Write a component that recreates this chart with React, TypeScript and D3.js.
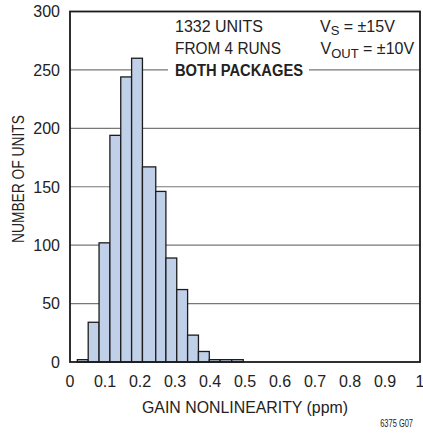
import React from "react";
import * as d3 from "d3";

const binEdges = [0.021, 0.052, 0.083, 0.114, 0.145, 0.176, 0.207, 0.245, 0.274, 0.305, 0.336, 0.367, 0.398, 0.429, 0.462, 0.495];
const counts = [2, 34, 102, 194, 244, 260, 167, 146, 89, 62, 23, 9, 2, 2, 2];
const xTicks = [0, 0.1, 0.2, 0.3, 0.4, 0.5, 0.6, 0.7, 0.8, 0.9, 1];
const yTicks = [0, 50, 100, 150, 200, 250, 300];

const W = 423;
const H = 433;
const FONT = "'Liberation Sans', Arial, sans-serif";

export default function App() {
  const x = d3.scaleLinear().domain([0, 1]).range([70, 420]);
  const y = d3.scaleLinear().domain([0, 300]).range([362, 11.5]);
  const bars = counts.map((c, i) => ({ x0: binEdges[i], x1: binEdges[i + 1], c }));
  const fmt = (v: number) => (v === 0 || v === 1 ? String(v) : d3.format(".1f")(v));
  return (
    <svg width={W} height={H} style={{ position: "absolute", left: 0, top: 0, background: "#fff" }} fontFamily={FONT}>
      <rect x={0} y={0} width={W} height={H} fill="#fff" />
      {yTicks.slice(1, -1).map((t) => (
        <line key={t} x1={x(0)} x2={x(1)} y1={y(t)} y2={y(t)} stroke="#777" strokeWidth={1.1} />
      ))}
      <rect x={168} y={62} width={141} height={16} fill="#fff" />
      {bars.map((b, i) => (
        <rect
          key={i}
          x={x(b.x0)}
          y={y(b.c)}
          width={x(b.x1) - x(b.x0)}
          height={y(0) - y(b.c)}
          fill="#c0d0e8"
          stroke="#1c1c1c"
          strokeWidth={1.3}
        />
      ))}
      <rect x={x(0)} y={y(300)} width={x(1) - x(0)} height={y(0) - y(300)} fill="none" stroke="#1a1a1a" strokeWidth={1.8} />
      {yTicks.map((t) => (
        <text key={t} x={60} y={y(t) + 5.8} textAnchor="end" fontSize={16} fill="#222">
          {t}
        </text>
      ))}
      {xTicks.map((t) => (
        <text key={t} x={x(t)} y={387} textAnchor="middle" fontSize={16} fill="#222">
          {fmt(t)}
        </text>
      ))}
      <text x={245} y={413} textAnchor="middle" fontSize={16} fill="#222" textLength={206} lengthAdjust="spacingAndGlyphs">
        GAIN NONLINEARITY (ppm)
      </text>
      <text
        transform="translate(24,179) rotate(-90)"
        textAnchor="middle"
        fontSize={16}
        fill="#222"
        textLength={128}
        lengthAdjust="spacingAndGlyphs"
      >
        NUMBER OF UNITS
      </text>
      <text transform="translate(413,427) scale(0.68,1)" textAnchor="end" fontSize={11} fill="#222">
        6375 G07
      </text>
      <text x={175} y={31.5} fontSize={16} fill="#222" textLength={88} lengthAdjust="spacingAndGlyphs">
        1332 UNITS
      </text>
      <text x={175} y={54} fontSize={16} fill="#222" textLength={106} lengthAdjust="spacingAndGlyphs">
        FROM 4 RUNS
      </text>
      <text x={175} y={76} fontSize={16} fontWeight="bold" fill="#222" textLength={128} lengthAdjust="spacingAndGlyphs">
        BOTH PACKAGES
      </text>
      <text x={320} y={31.5} fontSize={16} fill="#222">
        V<tspan fontSize={13} dy={3.5}>S</tspan>
        <tspan dy={-3.5}> = ±15V</tspan>
      </text>
      <text x={320.5} y={54} fontSize={16} fill="#222">
        V<tspan fontSize={13} dy={3.5}>OUT</tspan>
        <tspan dy={-3.5}> = ±10V</tspan>
      </text>
    </svg>
  );
}
